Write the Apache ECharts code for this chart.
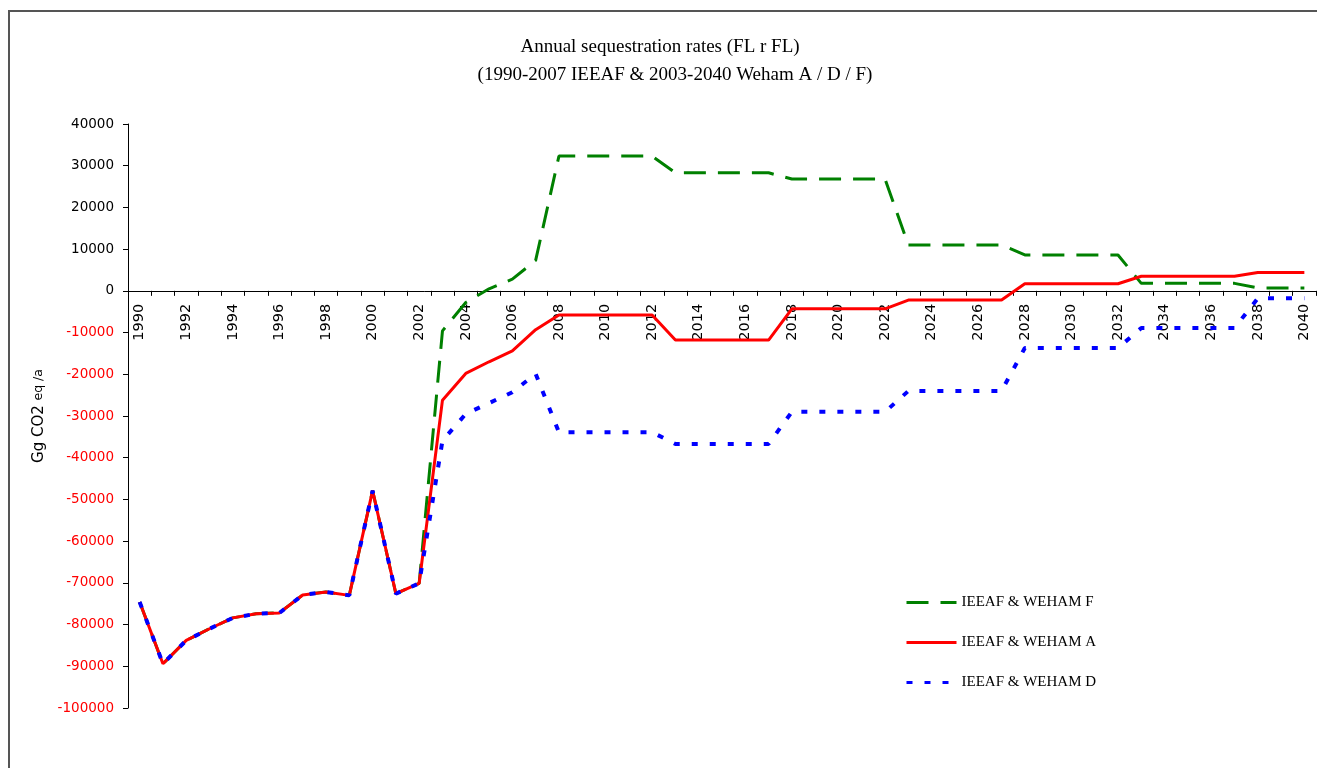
<!DOCTYPE html>
<html>
<head>
<meta charset="utf-8">
<script src="https://cdn.jsdelivr.net/npm/echarts@6/dist/echarts.min.js"></script>
<style>
  html, body { margin: 0; padding: 0; background: #fff; }
  #chart { width: 1317px; height: 768px; }
</style>
</head>
<body>
<div id="chart"></div>
<script>
var years = ['1990','1991','1992','1993','1994','1995','1996','1997','1998','1999',
  '2000','2001','2002','2003','2004','2005','2006','2007','2008','2009',
  '2010','2011','2012','2013','2014','2015','2016','2017','2018','2019',
  '2020','2021','2022','2023','2024','2025','2026','2027','2028','2029',
  '2030','2031','2032','2033','2034','2035','2036','2037','2038','2039','2040'];

var seriesNames = ['IEEAF & WEHAM F', 'IEEAF & WEHAM A', 'IEEAF & WEHAM D'];

// IEEAF & WEHAM F
var weham_F = [-74600,-89400,-83800,-81000,-78400,-77400,-77200,-72900,-72200,-73000,
  -47900,-72600,-70100,-9600,-2800,500,2800,7300,32300,32300,
  32300,32300,32300,28300,28300,28300,28300,28300,26800,26800,
  26800,26800,26800,11000,11000,11000,11000,11000,8600,8600,
  8600,8600,8600,1800,1800,1800,1800,1800,700,700,700];

// IEEAF & WEHAM A
var weham_A = [-74600,-89400,-83800,-81000,-78400,-77400,-77200,-72900,-72200,-73000,
  -47900,-72600,-70100,-26200,-19800,-17000,-14400,-9300,-5800,-5800,
  -5800,-5800,-5800,-11800,-11800,-11800,-11800,-11800,-4300,-4300,
  -4300,-4300,-4300,-2200,-2200,-2200,-2200,-2200,1700,1700,
  1700,1700,1700,3500,3500,3500,3500,3500,4400,4400,4400];

// IEEAF & WEHAM D
var weham_D = [-74600,-89400,-83800,-81000,-78400,-77400,-77200,-72900,-72200,-73000,
  -47900,-72600,-70100,-35900,-29500,-26900,-24300,-19900,-33900,-33900,
  -33900,-33900,-33900,-36700,-36700,-36700,-36700,-36700,-29000,-29000,
  -29000,-29000,-29000,-24000,-24000,-24000,-24000,-24000,-13700,-13700,
  -13700,-13700,-13700,-8900,-8900,-8900,-8900,-8900,-1800,-1800,-1800];

var yMin = -100000, yMax = 40000, yStep = 10000;

var titleLines = ['Annual sequestration rates (FL r FL)', '(1990-2007 IEEAF & 2003-2040 Weham A / D / F)'];

var gridTop = 124, gridBottom = 60, chartH = 768;
var plotH = chartH - gridTop - gridBottom;
// distance of the zero line above the bottom of the plot
var zeroOffset = plotH * (0 - yMin) / (yMax - yMin);

var chart = echarts.init(document.getElementById('chart'), null, { renderer: 'canvas' });

var option = {
  animation: false,
  backgroundColor: '#ffffff',
  graphic: [
    { type: 'rect', silent: true, z: -1,
      shape: { x: 9, y: 11, width: 1400, height: 900 },
      style: { fill: 'none', stroke: '#555555', lineWidth: 2 } },
    { type: 'text', x: 660, y: 47,
      style: { text: titleLines[0], fill: '#000', font: '19px "Liberation Serif"', textAlign: 'center', textVerticalAlign: 'middle' } },
    { type: 'text', x: 675, y: 75,
      style: { text: titleLines[1], fill: '#000', font: '19px "Liberation Serif"', textAlign: 'center', textVerticalAlign: 'middle' } }
  ],
  grid: { left: 128, right: 1, top: gridTop, bottom: gridBottom, containLabel: false },
  legend: {
    orient: 'vertical', left: 900, top: 590,
    itemWidth: 50, itemHeight: 14, itemGap: 25,
    data: seriesNames,
    itemStyle: { opacity: 0 },
    lineStyle: { width: 3 },
    textStyle: { fontFamily: 'Liberation Serif', fontSize: 15, color: '#000' }
  },
  xAxis: {
    type: 'category', data: years, boundaryGap: true,
    position: 'bottom', offset: -zeroOffset,
    axisLine: { onZero: false, lineStyle: { color: '#000', width: 1 } },
    axisTick: { show: true, interval: 0, length: 5, inside: false, lineStyle: { color: '#000' } },
    axisLabel: { interval: 1, rotate: 90, margin: 13, color: '#000',
      fontFamily: 'DejaVu Sans', fontSize: 14.5 },
    splitLine: { show: false }
  },
  yAxis: {
    type: 'value', min: yMin, max: yMax, interval: yStep,
    name: '{a|Gg CO2 }{b|eq /a}', nameLocation: 'middle', nameRotate: 90, nameGap: 80,
    nameTextStyle: { color: '#000', rich: {
      a: { fontFamily: 'DejaVu Sans', fontSize: 15, color: '#000' },
      b: { fontFamily: 'DejaVu Sans', fontSize: 12.5, color: '#000' } } },
    axisLine: { show: true, lineStyle: { color: '#000', width: 1 } },
    axisTick: { show: true, length: 5, inside: false, lineStyle: { color: '#000' } },
    axisLabel: { margin: 14, fontFamily: 'DejaVu Sans', fontSize: 13.5,
      formatter: function (v) { return String(v); },
      color: function (v) { return Number(v) < 0 ? '#ff0000' : '#000000'; } },
    splitLine: { show: false }
  },
  series: [
    { name: seriesNames[0], type: 'line', data: weham_F, symbol: 'none', showSymbol: false,
      lineStyle: { color: '#008000', width: 3, type: [22, 12], cap: 'butt' }, itemStyle: { color: '#008000' } },
    { name: seriesNames[1], type: 'line', data: weham_A, symbol: 'none', showSymbol: false,
      lineStyle: { color: '#ff0000', width: 3, type: 'solid' }, itemStyle: { color: '#ff0000' } },
    { name: seriesNames[2], type: 'line', data: weham_D, symbol: 'none', showSymbol: false,
      lineStyle: { color: '#0000ff', width: 4, type: [6, 12], cap: 'butt' }, itemStyle: { color: '#0000ff' } }
  ]
};
chart.setOption(option);
</script>
</body>
</html>
